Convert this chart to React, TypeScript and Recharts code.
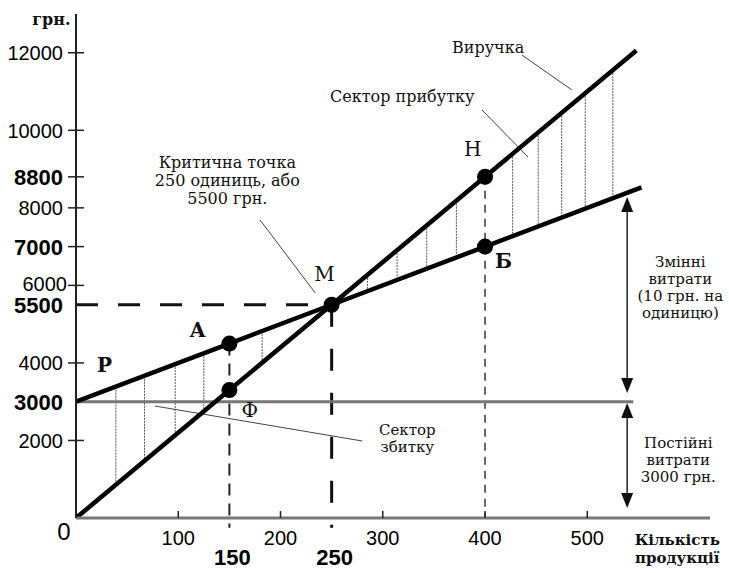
import {
    ComposedChart,
    Line,
    Scatter,
    XAxis,
    YAxis,
    ReferenceLine,
    ReferenceDot,
} from 'recharts';

// break-even chart: revenue vs total costs
const revenueQty = [0, 150, 250, 400, 548];
const revenueUah = [0, 3300, 5500, 8800, 12056];
const costQty = [0, 150, 250, 400, 553];
const costUah = [3000, 4500, 5500, 7000, 8530];
const fixedQty = [0, 545];
const fixedUah = [3000, 3000];

const pointNames = ['А', 'Ф', 'М', 'Н', 'Б'];
const pointQty = [150, 150, 250, 400, 400];
const pointUah = [4500, 3300, 5500, 8800, 7000];

// vertical hatching between the two lines
const lossQty = [39, 67, 97, 125, 182];
const lossTop = [3390, 3670, 3970, 4250, 4820];
const lossBottom = [858, 1474, 2134, 2750, 4004];
const profitQty = [285, 314, 343, 372, 427, 452, 475, 498, 525];
const profitTop = [6270, 6908, 7546, 8184, 9394, 9944, 10450, 10956, 11550];
const profitBottom = [5850, 6140, 6430, 6720, 7270, 7520, 7750, 7980, 8250];

const xTicks = [0, 100, 150, 200, 250, 300, 400, 500];
const yTicks = [2000, 3000, 4000, 5500, 6000, 7000, 8000, 8800, 10000, 12000];
const boldTicks = [150, 250, 3000, 5500, 7000, 8800];

const toRows = (qs: number[], vs: number[]) => qs.map((q, i) => ({ q, v: vs[i] }));
const revenueData = toRows(revenueQty, revenueUah);
const costData = toRows(costQty, costUah);
const fixedData = toRows(fixedQty, fixedUah);
const pointData = pointQty.map((q, i) => ({ q, v: pointUah[i], name: pointNames[i] }));

const SERIF = '"DejaVu Serif", "Liberation Serif", serif';
const SANS = '"Liberation Sans", Arial, sans-serif';

// annotation texts (centre x, baseline y of first line in data units)
const notes = [
    { q: -24, v: 12716, lines: ['грн.'], size: 16, weight: 'bold', lh: 0 },
    { q: 403, v: 11994, lines: ['Виручка'], size: 16, weight: 'normal', lh: 0 },
    { q: 319, v: 10730, lines: ['Сектор прибутку'], size: 16, weight: 'normal', lh: 0 },
    { q: 148, v: 9028, lines: ['Критична точка', '250 одиниць, або', '5500 грн.'], size: 16, weight: 'normal', lh: 18 },
    { q: 243, v: 6113, lines: ['М'], size: 20, weight: 'normal', lh: 0 },
    { q: 388, v: 9337, lines: ['Н'], size: 20, weight: 'normal', lh: 0 },
    { q: 418, v: 6449, lines: ['Б'], size: 20, weight: 'bold', lh: 0 },
    { q: 119, v: 4669, lines: ['А'], size: 20, weight: 'bold', lh: 0 },
    { q: 28, v: 3766, lines: ['Р'], size: 20, weight: 'bold', lh: 0 },
    { q: 170, v: 2605, lines: ['Ф'], size: 20, weight: 'normal', lh: 0 },
    { q: 324, v: 2140, lines: ['Сектор', 'збитку'], size: 15, weight: 'normal', lh: 17 },
    { q: 591, v: 6474, lines: ['Змінні', 'витрати', '(10 грн. на', 'одиницю)'], size: 15, weight: 'normal', lh: 17 },
    { q: 589, v: 1806, lines: ['Постійні', 'витрати', '3000 грн.'], size: 15, weight: 'normal', lh: 17 },
    { q: 588, v: -696, lines: ['Кількість', 'продукції'], size: 15, weight: 'bold', lh: 18 },
];

const leaders = [
    [{ x: 436, y: 11943 }, { x: 485, y: 11040 }],
    [{ x: 397, y: 10524 }, { x: 442, y: 9312 }],
    [{ x: 180, y: 7687 }, { x: 234, y: 5804 }],
    [{ x: 77, y: 2889 }, { x: 280, y: 1986 }],
];

const arrows = [
    [{ x: 539, y: 8280 }, { x: 539, y: 3224 }],
    [{ x: 539, y: 2966 }, { x: 539, y: 258 }],
];

/* eslint-disable @typescript-eslint/no-explicit-any */
function XTick({ x, y, payload }: any) {
    const v = payload.value;
    if (v === 0) {
        return (
            <text x={x - 12} y={y + 22} textAnchor="middle" fontFamily={SANS} fontSize={24}>
                0
            </text>
        );
    }
    const bold = boldTicks.includes(v);
    return (
        <g>
            {!bold && <line x1={x} x2={x} y1={y - 7} y2={y} stroke="#222" strokeWidth={1.5} />}
            <text
                x={x + (bold ? 3 : 0)}
                y={y + (bold ? 47 : 27)}
                textAnchor="middle"
                fontFamily={SANS}
                fontWeight={bold ? 'bold' : 'normal'}
                fontSize={bold ? 22 : 20}
            >
                {v}
            </text>
        </g>
    );
}

function YTick({ x, y, payload }: any) {
    const v = payload.value;
    const bold = boldTicks.includes(v);
    const mark = v !== 3000 && v !== 5500;
    return (
        <g>
            {mark && <line x1={x - 8} x2={x + 8} y1={y} y2={y} stroke="#222" strokeWidth={1.5} />}
            <text
                x={x - (v === 6000 ? 9 : 13)}
                y={y - (v === 6000 ? 2 : 0)}
                dy="0.36em"
                textAnchor="end"
                fontFamily={SANS}
                fontWeight={bold ? 'bold' : 'normal'}
                fontSize={bold ? 22 : 20}
            >
                {v}
            </text>
        </g>
    );
}

function arrowShape(p: any) {
    const top = Math.min(p.y1, p.y2);
    const bottom = Math.max(p.y1, p.y2);
    const x = p.x1;
    return (
        <g>
            <line x1={x} x2={x} y1={top + 10} y2={bottom - 10} stroke="#222" strokeWidth={1.5} />
            <polygon points={`${x},${top} ${x - 6},${top + 15} ${x + 6},${top + 15}`} fill="#111" />
            <polygon points={`${x},${bottom} ${x - 6},${bottom - 15} ${x + 6},${bottom - 15}`} fill="#111" />
        </g>
    );
}

export default function App() {
    return (
        <div style={{ position: 'absolute', left: 0, top: 0, width: 729, height: 573, background: '#fff' }}>
            <ComposedChart width={729} height={573} margin={{ top: 14, right: 19, bottom: 0, left: 0 }}>
                <XAxis
                    type="number"
                    dataKey="q"
                    domain={[0, 620]}
                    ticks={xTicks}
                    interval={0}
                    height={55}
                    tickLine={false}
                    tickSize={0}
                    tickMargin={0}
                    tick={<XTick />}
                    axisLine={{ stroke: '#777', strokeWidth: 3 }}
                    allowDataOverflow
                />
                <YAxis
                    type="number"
                    dataKey="v"
                    domain={[0, 13000]}
                    ticks={yTicks}
                    interval={0}
                    width={76}
                    tickLine={false}
                    tickSize={0}
                    tickMargin={0}
                    tick={<YTick />}
                    axisLine={{ stroke: '#222', strokeWidth: 2 }}
                    allowDataOverflow
                />

                {/* hatching */}
                {lossQty.map((q, i) => (
                    <ReferenceLine
                        key={`l${q}`}
                        segment={[{ x: q, y: lossTop[i] }, { x: q, y: lossBottom[i] }]}
                        stroke="#555"
                        strokeWidth={1}
                        strokeDasharray="2 1"
                        ifOverflow="visible"
                    />
                ))}
                {profitQty.map((q, i) => (
                    <ReferenceLine
                        key={`p${q}`}
                        segment={[{ x: q, y: profitTop[i] }, { x: q, y: profitBottom[i] }]}
                        stroke="#555"
                        strokeWidth={1}
                        strokeDasharray="2 1"
                        ifOverflow="visible"
                    />
                ))}

                {/* dashed guides */}
                <ReferenceLine segment={[{ x: 0, y: 5500 }, { x: 250, y: 5500 }]} stroke="#111" strokeWidth={3} strokeDasharray="22 20" ifOverflow="visible" />
                <ReferenceLine segment={[{ x: 250, y: 5500 }, { x: 250, y: -250 }]} stroke="#111" strokeWidth={3} strokeDasharray="22 22" ifOverflow="visible" />
                <ReferenceLine segment={[{ x: 150, y: 4500 }, { x: 150, y: -250 }]} stroke="#222" strokeWidth={2} strokeDasharray="12 8" ifOverflow="visible" />
                <ReferenceLine segment={[{ x: 400, y: 8800 }, { x: 400, y: 0 }]} stroke="#666" strokeWidth={2} strokeDasharray="8 6" ifOverflow="visible" />

                {/* leader lines */}
                {leaders.map((s, i) => (
                    <ReferenceLine key={`ld${i}`} segment={s} stroke="#444" strokeWidth={1} ifOverflow="visible" />
                ))}

                {/* cost arrows */}
                {arrows.map((s, i) => (
                    <ReferenceLine key={`ar${i}`} segment={s} shape={arrowShape} ifOverflow="visible" />
                ))}

                <Line data={fixedData} dataKey="v" stroke="#777" strokeWidth={3} dot={false} isAnimationActive={false} />
                <Line data={costData} dataKey="v" stroke="#000" strokeWidth={4.5} dot={false} isAnimationActive={false} />
                <Line data={revenueData} dataKey="v" stroke="#000" strokeWidth={4.5} dot={false} isAnimationActive={false} />
                <Scatter
                    data={pointData}
                    dataKey="v"
                    fill="#000"
                    isAnimationActive={false}
                    shape={(p: any) => <circle cx={p.cx} cy={p.cy} r={8} fill="#000" />}
                />

                {notes.map((n, i) => (
                    <ReferenceDot
                        key={`n${i}`}
                        x={n.q}
                        y={n.v}
                        r={1}
                        ifOverflow="visible"
                        shape={(p: any) => (
                            <text
                                x={p.cx}
                                y={p.cy}
                                textAnchor="middle"
                                fontFamily={SERIF}
                                fontSize={n.size}
                                fontWeight={n.weight}
                                fill="#111"
                            >
                                {n.lines.map((l, j) => (
                                    <tspan key={j} x={p.cx} dy={j ? n.lh : 0}>
                                        {l}
                                    </tspan>
                                ))}
                            </text>
                        )}
                    />
                ))}
            </ComposedChart>
        </div>
    );
}
